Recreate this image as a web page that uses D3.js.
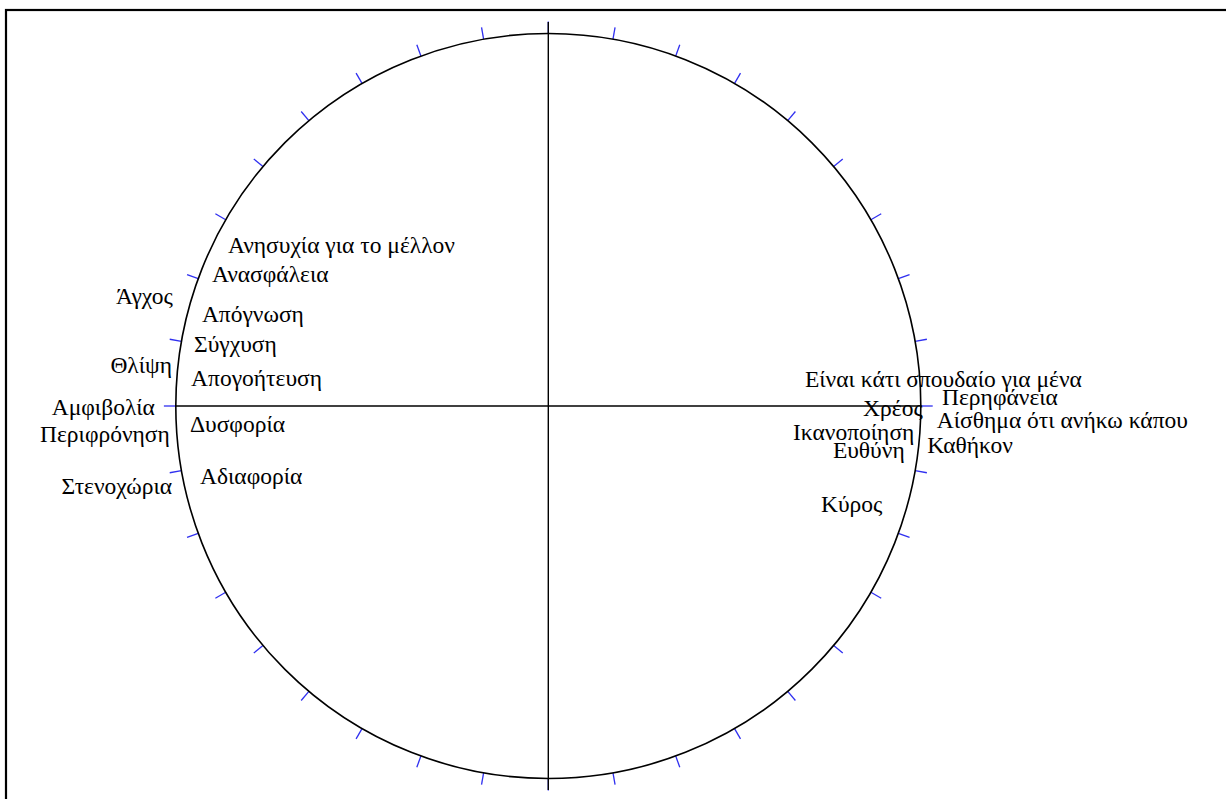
<!DOCTYPE html>
<html>
<head>
<meta charset="utf-8">
<script src="https://cdn.jsdelivr.net/npm/d3@7"></script>
<style>
  html, body { margin: 0; padding: 0; background: #fff; overflow: hidden; }
  svg { display: block; }
</style>
</head>
<body>
<svg id="chart" width="1226" height="799"></svg>
<script>
// ---- data ----
// label anchor positions in circle units (circle radius = 1, centre = 0,0)
const labels = [
  "Ανησυχία για το μέλλον", "Ανασφάλεια", "Άγχος", "Απόγνωση", "Σύγχυση",
  "Θλίψη", "Απογοήτευση", "Αμφιβολία", "Δυσφορία", "Περιφρόνηση",
  "Αδιαφορία", "Στενοχώρια",
  "Είναι κάτι σπουδαίο για μένα", "Περηφάνεια", "Χρέος", "Αίσθημα ότι ανήκω κάπου",
  "Ικανοποίηση", "Ευθύνη", "Καθήκον", "Κύρος"
];
const labelX = [
  -0.860, -0.903, -1.008, -0.930, -0.951,
  -1.010, -0.959, -1.056, -0.962, -1.016,
  -0.935, -1.010,
   0.689,  1.057,  0.845,  1.043,
   0.657,  0.764,  1.017,  0.732
];
const labelY = [
   0.411,  0.333,  0.274,  0.226,  0.145,
   0.089,  0.054, -0.024, -0.070, -0.097,
  -0.209, -0.236,
   0.052,  0.004, -0.027, -0.059,
  -0.091, -0.140, -0.126, -0.285
];
const tickAngles = d3.range(0, 360, 10);   // degrees
const tickLength = [1.0, 1.032];           // radial extent, in circle units
const verticalAxis = [-1.031, 1.031];
const horizontalAxis = [-1, 1];

// ---- layout ----
const svg = d3.select("#chart");
const cx = 548.3, cy = 406, R = 372.5;
const x = d3.scaleLinear().domain([-1, 1]).range([cx - R, cx + R]);
const y = d3.scaleLinear().domain([-1, 1]).range([cy + R, cy - R]);

// frame (runs off the right and bottom of the window)
svg.append("rect")
  .attr("x", 6).attr("y", 10)
  .attr("width", 1400).attr("height", 1000)
  .attr("fill", "none").attr("stroke", "#000").attr("stroke-width", 2.2);

// ticks
const rad = d => d * Math.PI / 180;
svg.append("g").selectAll("line").data(tickAngles).join("line")
  .attr("x1", d => x(tickLength[0] * Math.sin(rad(d))))
  .attr("y1", d => y(tickLength[0] * Math.cos(rad(d))))
  .attr("x2", d => x(tickLength[1] * Math.sin(rad(d))))
  .attr("y2", d => y(tickLength[1] * Math.cos(rad(d))))
  .attr("stroke", "#2f2ff0").attr("stroke-width", 1.3);

// circle
svg.append("circle")
  .attr("cx", x(0)).attr("cy", y(0)).attr("r", x(1) - x(0))
  .attr("fill", "none").attr("stroke", "#000").attr("stroke-width", 1.6);

// axes
svg.append("line")
  .attr("x1", x(0)).attr("x2", x(0))
  .attr("y1", y(verticalAxis[1])).attr("y2", y(verticalAxis[0]))
  .attr("stroke", "#000").attr("stroke-width", 1.4);
svg.append("line")
  .attr("x1", x(horizontalAxis[0])).attr("x2", x(horizontalAxis[1]))
  .attr("y1", y(0)).attr("y2", y(0))
  .attr("stroke", "#000").attr("stroke-width", 1.4);

// labels: those lying outside the circle on the left end at their anchor
svg.append("g").selectAll("text").data(labels).join("text")
  .attr("x", (d, i) => x(labelX[i]))
  .attr("y", (d, i) => y(labelY[i]))
  .attr("text-anchor", (d, i) => labelX[i] < -1 ? "end" : "start")
  .style("font-family", '"Liberation Serif", "Times New Roman", serif')
  .style("font-size", "23.5px")
  .style("fill", "#000")
  .text(d => d);
</script>
</body>
</html>
